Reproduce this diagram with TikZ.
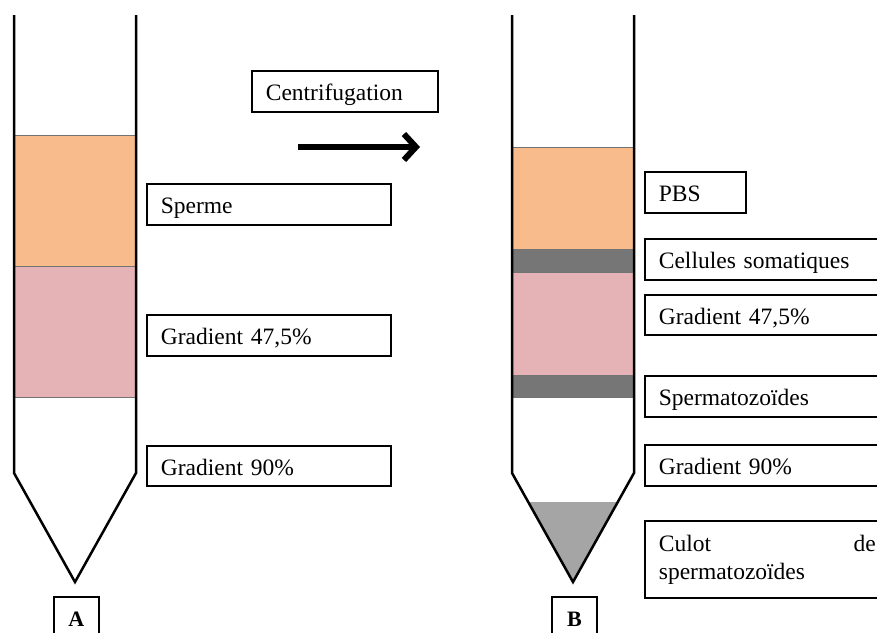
\documentclass[tikz,border=0pt]{standalone}
\usepackage{fontspec}
\setmainfont{Liberation Serif}
\usetikzlibrary{arrows.meta}
\definecolor{sperm}{HTML}{F8BB8B}
\definecolor{grad}{HTML}{E5B3B6}
\definecolor{band}{HTML}{767676}
\definecolor{pellet}{HTML}{A5A5A5}
\tikzset{
  lbl/.style={draw, line width=1.7pt, anchor=north west, inner xsep=14pt, inner ysep=2pt,
    align=left, font=\fontsize{23.5}{28}\selectfont},
  oneline/.style={text height=19pt, text depth=0pt},
  tag/.style={draw, line width=1.7pt, anchor=north west, minimum width=45pt, minimum height=49pt,
    inner sep=0pt, text height=14.5pt, text depth=5pt, font=\fontsize{22}{26}\selectfont\bfseries},
  layer/.style={draw=black!55, line width=0.6pt},
  tube/.style={draw, line width=2.5pt, line join=miter},
}
\begin{document}
\begin{tikzpicture}[x=1pt,y=-1pt]
\useasboundingbox (0,0) rectangle (877,632);
% ---------- Tube A ----------
\fill[sperm, layer] (14,135) rectangle (136,266);
\fill[grad, layer] (14,266) rectangle (136,397);
\draw[tube] (14,15) -- (14,473) -- (75,582) -- (136,473) -- (136,15);
% ---------- Tube B ----------
\fill[sperm, layer] (512,147) rectangle (634,249);
\fill[band, layer] (512,249) rectangle (634,272);
\fill[grad, layer] (512,272) rectangle (634,375);
\fill[band, layer] (512,375) rectangle (634,397);
\fill[pellet] (528.2,502) -- (617.8,502) -- (573,582) -- cycle;
\draw[tube] (512,15) -- (512,473) -- (573,582) -- (634,473) -- (634,15);
% ---------- Labels A ----------
\node[lbl, oneline, text width=158pt, minimum height=41pt] (cent) at (251,70) {Centrifugation};
\node[lbl, oneline, text width=216pt, minimum height=41pt] (sperme) at (146,183) {Sperme};
\node[lbl, oneline, text width=216pt, minimum height=41pt] (gA1) at (146,314) {Gradient 47,5\%};
\node[lbl, oneline, text width=216pt, minimum height=40pt] (gA2) at (146,445) {Gradient 90\%};
% ---------- Labels B ----------
\node[lbl, oneline, text width=73pt, minimum height=41pt] (pbs) at (644,171) {PBS};
\node[lbl, oneline, text width=217pt, minimum height=41pt] (cell) at (644,238) {Cellules somatiques};
\node[lbl, oneline, text width=217pt, minimum height=40pt] (gB1) at (644,294) {Gradient 47,5\%};
\node[lbl, oneline, text width=217pt, minimum height=41pt] (spz) at (644,375) {Spermatozoïdes};
\node[lbl, oneline, text width=217pt, minimum height=41pt] (gB2) at (644,444) {Gradient 90\%};
\node[lbl, text width=217pt, minimum height=77pt] (culot) at (644,520) {Culot\hfill de\\spermatozoïdes};
% ---------- Tags ----------
\node[tag] (tA) at (53,596) {A};
\node[tag] (tB) at (551,596) {B};
% ---------- Arrow ----------
\coordinate (arS) at (298,147);
\coordinate (arE) at (420,147);
\draw[line width=6pt, -{Straight Barb[length=12pt, width=26pt]}] (arS) -- (arE);
\end{tikzpicture}
\end{document}
